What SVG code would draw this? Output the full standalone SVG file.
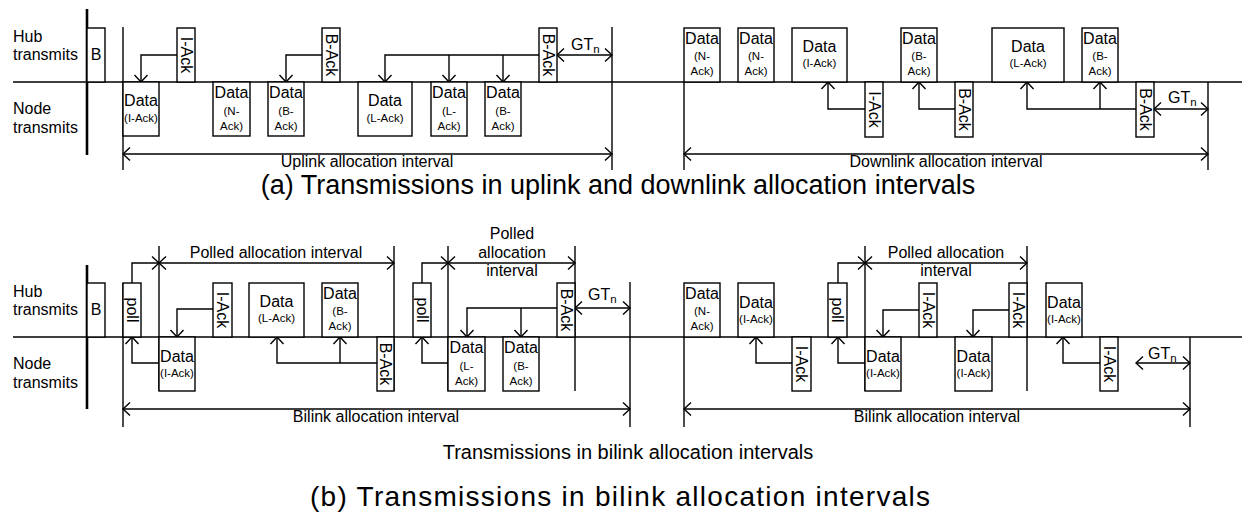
<svg xmlns="http://www.w3.org/2000/svg" width="1242" height="525" viewBox="0 0 1242 525">
<style>
.ln{stroke:#000;stroke-width:1.4;fill:none}
.ax{stroke:#000;stroke-width:2.6;fill:none}
.bx{stroke:#000;stroke-width:1.4;fill:#fff}
text{font-family:"Liberation Sans",Arial,sans-serif;font-size:16px;fill:#000}
.m{text-anchor:middle}
.s{font-size:11.5px;text-anchor:middle}
.r{text-anchor:middle;dominant-baseline:central}
.ar{marker-end:url(#ah)}
.dbl{marker-start:url(#ah);marker-end:url(#ah)}
.cap{font-size:27px;text-anchor:middle}
.capb{font-size:28px;text-anchor:middle}
.mid{font-size:20px;text-anchor:middle}
</style>
<defs>
<marker id="ah" markerUnits="userSpaceOnUse" viewBox="-9 -8 10 16" refX="0" refY="0" markerWidth="10" markerHeight="16" orient="auto-start-reverse" overflow="visible">
<path d="M-7,-6.5 L0,0 L-7,6.5" fill="none" stroke="#000" stroke-width="1.4"/>
</marker>
</defs>

<!-- axes and labels -->
<g id="axes">
<line class="ax" x1="87" y1="9" x2="87" y2="155"/>
<line class="ln" x1="13" y1="82" x2="1242" y2="82"/>
<line class="ax" x1="87" y1="265" x2="87" y2="409"/>
<line class="ln" x1="13" y1="337" x2="1242" y2="337"/>
<text x="13" y="42">Hub</text><text x="13" y="60">transmits</text>
<text x="13" y="114">Node</text><text x="13" y="133">transmits</text>
<text x="13" y="297">Hub</text><text x="13" y="315">transmits</text>
<text x="13" y="369">Node</text><text x="13" y="388">transmits</text>
</g>

<!-- connectors -->
<g id="connectors">
<!-- top left -->
<path class="ln ar" d="M177,55 H141 V82"/>
<path class="ln ar" d="M322,55 H286 V82"/>
<path class="ln ar" d="M539,55 H385 V82"/>
<path class="ln ar" d="M449,55 V82"/>
<path class="ln ar" d="M503,55 V82"/>
<path class="ln dbl" d="M557,55 H612"/>
<line class="ln" x1="123" y1="27" x2="123" y2="170"/>
<line class="ln" x1="612" y1="27" x2="612" y2="170"/>
<path class="ln dbl" d="M123,154 H612"/>
<!-- top right -->
<path class="ln ar" d="M865,109 H828 V82"/>
<path class="ln ar" d="M955,109 H919 V82"/>
<path class="ln ar" d="M1136,109 H1027 V82"/>
<path class="ln ar" d="M1100,109 V82"/>
<path class="ln dbl" d="M1154,109 H1208"/>
<line class="ln" x1="684" y1="82" x2="684" y2="170"/>
<line class="ln" x1="1208" y1="82" x2="1208" y2="170"/>
<path class="ln dbl" d="M684,154 H1208"/>
<!-- bottom left -->
<line class="ln" x1="123" y1="283" x2="123" y2="427"/>
<path class="ln ar" d="M132,283 V263 H159"/>
<path class="ln ar" d="M159,363 H132 V337"/>
<path class="ln dbl" d="M159,263 H394"/>
<line class="ln" x1="159" y1="246" x2="159" y2="391"/>
<line class="ln" x1="394" y1="246" x2="394" y2="391"/>
<path class="ln ar" d="M213,309 H177 V337"/>
<path class="ln ar" d="M377,363 H277 V337"/>
<path class="ln ar" d="M340,363 V337"/>
<path class="ln ar" d="M422,283 V263 H448"/>
<path class="ln ar" d="M448,363 H422 V337"/>
<path class="ln dbl" d="M448,263 H575"/>
<line class="ln" x1="448" y1="246" x2="448" y2="391"/>
<line class="ln" x1="575" y1="246" x2="575" y2="391"/>
<path class="ln ar" d="M557,308 H467 V337"/>
<path class="ln ar" d="M521,308 V337"/>
<path class="ln dbl" d="M575,308 H630"/>
<line class="ln" x1="630" y1="282" x2="630" y2="427"/>
<path class="ln dbl" d="M123,409 H630"/>
<!-- bottom right -->
<line class="ln" x1="684" y1="337" x2="684" y2="427"/>
<path class="ln ar" d="M792,363 H756 V337"/>
<path class="ln ar" d="M838,283 V263 H865"/>
<path class="ln ar" d="M865,363 H838 V337"/>
<path class="ln dbl" d="M865,263 H1027"/>
<line class="ln" x1="865" y1="246" x2="865" y2="391"/>
<line class="ln" x1="1027" y1="246" x2="1027" y2="391"/>
<path class="ln ar" d="M919,310 H883 V337"/>
<path class="ln ar" d="M1009,310 H973 V337"/>
<path class="ln ar" d="M1100,363 H1063 V337"/>
<path class="ln dbl" d="M1136,363 H1190"/>
<line class="ln" x1="1190" y1="337" x2="1190" y2="427"/>
<path class="ln dbl" d="M684,409 H1190"/>
</g>

<!-- top-left nodes -->
<g id="b1"><rect class="bx" x="87" y="28" width="18" height="54"/><text class="m" x="96" y="60">B</text></g>
<g id="dataI1"><rect class="bx" x="123" y="82" width="36" height="54"/><text class="m" x="141" y="106">Data</text><text class="s" x="141" y="122">(I-Ack)</text></g>
<g id="iack1"><rect class="bx" x="177" y="28" width="18" height="54"/><text class="r" transform="translate(186,55) rotate(90)">I-Ack</text></g>
<g id="dataN1"><rect class="bx" x="213" y="82" width="37" height="54"/><text class="m" x="231.5" y="98">Data</text><text class="s" x="231.5" y="115">(N-</text><text class="s" x="231.5" y="130">Ack)</text></g>
<g id="dataB1"><rect class="bx" x="268" y="82" width="36" height="54"/><text class="m" x="286" y="98">Data</text><text class="s" x="286" y="115">(B-</text><text class="s" x="286" y="130">Ack)</text></g>
<g id="back1"><rect class="bx" x="322" y="28" width="18" height="54"/><text class="r" transform="translate(331,55) rotate(90)">B-Ack</text></g>
<g id="dataL1"><rect class="bx" x="358" y="82" width="54" height="54"/><text class="m" x="385" y="106">Data</text><text class="s" x="385" y="122">(L-Ack)</text></g>
<g id="dataL2"><rect class="bx" x="431" y="82" width="36" height="54"/><text class="m" x="449" y="98">Data</text><text class="s" x="449" y="115">(L-</text><text class="s" x="449" y="130">Ack)</text></g>
<g id="dataB2"><rect class="bx" x="485" y="82" width="36" height="54"/><text class="m" x="503" y="98">Data</text><text class="s" x="503" y="115">(B-</text><text class="s" x="503" y="130">Ack)</text></g>
<g id="back2"><rect class="bx" x="539" y="28" width="18" height="54"/><text class="r" transform="translate(548,55) rotate(90)">B-Ack</text></g>
<g id="gt1"><text x="571" y="50">GT<tspan font-size="11.5" dy="3">n</tspan></text></g>
<g id="uplink"><text class="m" x="367" y="167">Uplink allocation interval</text></g>

<!-- top-right nodes -->
<g id="dataN2"><rect class="bx" x="684" y="28" width="36" height="54"/><text class="m" x="702" y="44">Data</text><text class="s" x="702" y="60">(N-</text><text class="s" x="702" y="75">Ack)</text></g>
<g id="dataN3"><rect class="bx" x="738" y="28" width="36" height="54"/><text class="m" x="756" y="44">Data</text><text class="s" x="756" y="60">(N-</text><text class="s" x="756" y="75">Ack)</text></g>
<g id="dataI2"><rect class="bx" x="792" y="28" width="55" height="54"/><text class="m" x="819.5" y="52">Data</text><text class="s" x="819.5" y="67">(I-Ack)</text></g>
<g id="iack2"><rect class="bx" x="865" y="82" width="18" height="55"/><text class="r" transform="translate(874,109.5) rotate(90)">I-Ack</text></g>
<g id="dataB3"><rect class="bx" x="901" y="28" width="36" height="54"/><text class="m" x="919" y="44">Data</text><text class="s" x="919" y="60">(B-</text><text class="s" x="919" y="75">Ack)</text></g>
<g id="back3"><rect class="bx" x="955" y="82" width="18" height="55"/><text class="r" transform="translate(964,109.5) rotate(90)">B-Ack</text></g>
<g id="dataL3"><rect class="bx" x="992" y="28" width="72" height="54"/><text class="m" x="1028" y="52">Data</text><text class="s" x="1028" y="67">(L-Ack)</text></g>
<g id="dataB4"><rect class="bx" x="1082" y="28" width="36" height="54"/><text class="m" x="1100" y="44">Data</text><text class="s" x="1100" y="60">(B-</text><text class="s" x="1100" y="75">Ack)</text></g>
<g id="back4"><rect class="bx" x="1136" y="82" width="18" height="55"/><text class="r" transform="translate(1145,109.5) rotate(90)">B-Ack</text></g>
<g id="gt2"><text x="1168" y="103">GT<tspan font-size="11.5" dy="3">n</tspan></text></g>
<g id="downlink"><text class="m" x="946" y="167">Downlink allocation interval</text></g>

<g id="capA"><text class="cap" x="618" y="194">(a) Transmissions in uplink and downlink allocation intervals</text></g>

<!-- bottom-left nodes -->
<g id="b2"><rect class="bx" x="87" y="283" width="18" height="54"/><text class="m" x="96" y="315">B</text></g>
<g id="poll1"><rect class="bx" x="123" y="283" width="18" height="54"/><text class="r" transform="translate(132,310) rotate(90)">poll</text></g>
<g id="dataI3"><rect class="bx" x="159" y="337" width="36" height="54"/><text class="m" x="177" y="362">Data</text><text class="s" x="177" y="377">(I-Ack)</text></g>
<g id="iack3"><rect class="bx" x="213" y="283" width="19" height="54"/><text class="r" transform="translate(222.5,310) rotate(90)">I-Ack</text></g>
<g id="dataL4"><rect class="bx" x="249" y="283" width="55" height="54"/><text class="m" x="276.5" y="307">Data</text><text class="s" x="276.5" y="322">(L-Ack)</text></g>
<g id="dataB5"><rect class="bx" x="322" y="283" width="36" height="54"/><text class="m" x="340" y="299">Data</text><text class="s" x="340" y="315">(B-</text><text class="s" x="340" y="330">Ack)</text></g>
<g id="back5"><rect class="bx" x="377" y="337" width="17" height="54"/><text class="r" transform="translate(385.5,364) rotate(90)">B-Ack</text></g>
<g id="poll2"><rect class="bx" x="413" y="283" width="18" height="54"/><text class="r" transform="translate(422,310) rotate(90)">poll</text></g>
<g id="dataL5"><rect class="bx" x="448" y="337" width="37" height="54"/><text class="m" x="466.5" y="353">Data</text><text class="s" x="466.5" y="370">(L-</text><text class="s" x="466.5" y="385">Ack)</text></g>
<g id="dataB6"><rect class="bx" x="503" y="337" width="36" height="54"/><text class="m" x="521" y="353">Data</text><text class="s" x="521" y="370">(B-</text><text class="s" x="521" y="385">Ack)</text></g>
<g id="back6"><rect class="bx" x="557" y="283" width="18" height="54"/><text class="r" transform="translate(566,310) rotate(90)">B-Ack</text></g>
<g id="gt3"><text x="588" y="300">GT<tspan font-size="11.5" dy="3">n</tspan></text></g>
<g id="polled1"><text class="m" x="276" y="258">Polled allocation interval</text></g>
<g id="polled2"><text class="m" x="512" y="239">Polled</text><text class="m" x="512" y="258">allocation</text><text class="m" x="512" y="276">interval</text></g>
<g id="bilink1"><text class="m" x="376" y="422">Bilink allocation interval</text></g>

<!-- bottom-right nodes -->
<g id="dataN4"><rect class="bx" x="684" y="283" width="36" height="54"/><text class="m" x="702" y="299">Data</text><text class="s" x="702" y="315">(N-</text><text class="s" x="702" y="330">Ack)</text></g>
<g id="dataI4"><rect class="bx" x="738" y="283" width="36" height="54"/><text class="m" x="756" y="308">Data</text><text class="s" x="756" y="323">(I-Ack)</text></g>
<g id="iack4"><rect class="bx" x="792" y="337" width="19" height="54"/><text class="r" transform="translate(801.5,364) rotate(90)">I-Ack</text></g>
<g id="poll3"><rect class="bx" x="828" y="283" width="19" height="54"/><text class="r" transform="translate(837.5,310) rotate(90)">poll</text></g>
<g id="dataI5"><rect class="bx" x="865" y="337" width="36" height="54"/><text class="m" x="883" y="362">Data</text><text class="s" x="883" y="377">(I-Ack)</text></g>
<g id="iack5"><rect class="bx" x="919" y="283" width="18" height="54"/><text class="r" transform="translate(928,310) rotate(90)">I-Ack</text></g>
<g id="dataI6"><rect class="bx" x="955" y="337" width="37" height="54"/><text class="m" x="973.5" y="362">Data</text><text class="s" x="973.5" y="377">(I-Ack)</text></g>
<g id="iack6"><rect class="bx" x="1009" y="283" width="18" height="54"/><text class="r" transform="translate(1018,310) rotate(90)">I-Ack</text></g>
<g id="dataI7"><rect class="bx" x="1046" y="283" width="36" height="54"/><text class="m" x="1064" y="308">Data</text><text class="s" x="1064" y="323">(I-Ack)</text></g>
<g id="iack7"><rect class="bx" x="1100" y="337" width="18" height="54"/><text class="r" transform="translate(1109,364) rotate(90)">I-Ack</text></g>
<g id="gt4"><text x="1148" y="359">GT<tspan font-size="11.5" dy="3">n</tspan></text></g>
<g id="polled3"><text class="m" x="946" y="258">Polled allocation</text><text class="m" x="946" y="276">interval</text></g>
<g id="bilink2"><text class="m" x="937" y="422">Bilink allocation interval</text></g>

<g id="capMid"><text class="mid" x="628" y="459">Transmissions in bilink allocation intervals</text></g>
<g id="capB"><text class="capb" x="620" y="506" textLength="620" lengthAdjust="spacing">(b) Transmissions in bilink allocation intervals</text></g>
</svg>
